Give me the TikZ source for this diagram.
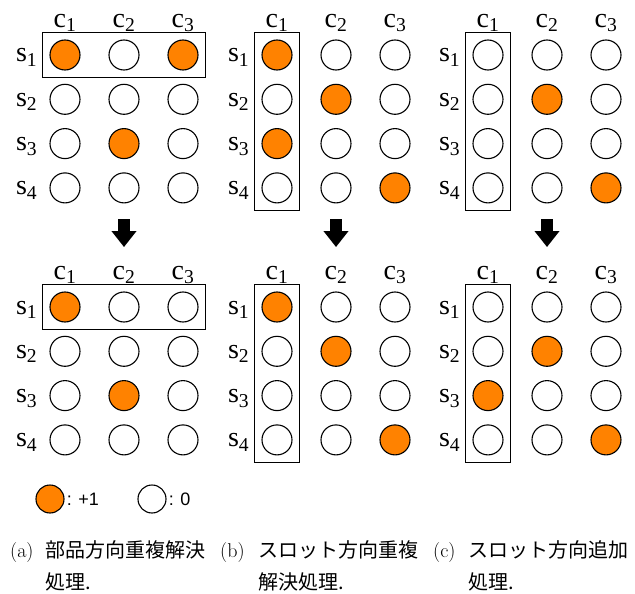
\documentclass[tikz,border=0pt]{standalone}
\usepackage{fontspec}
\usepackage{tikz}
\usetikzlibrary{positioning,fit,arrows.meta}
\newfontfamily\tnr{Liberation Serif}
\newfontfamily\helv{Liberation Sans}
\newfontfamily\jp{Noto Sans CJK JP}
\definecolor{hitc}{RGB}{255,130,0}

\begin{document}
\begin{tikzpicture}[x=1pt,y=-1pt,
  dot/.style={circle,draw,line width=1.1pt,minimum size=30pt,inner sep=0pt},
  grp/.style={draw,line width=1.1pt,inner sep=7pt},
  lbl/.style={font=\tnr\fontsize{28}{30}\selectfont,inner sep=0pt},
  down/.style={line width=12pt,-{Triangle[width=24pt,length=16pt]}},
  keytxt/.style={font=\helv\fontsize{18}{20}\selectfont,inner sep=0pt},
  captext/.style={font=\fontsize{20}{24}\selectfont,inner sep=0pt,anchor=base west}]
\useasboundingbox (0,0) rectangle (635,594);
\foreach \p/\px/\py/\pat/\last in {ta/65/55/{212,111,121,111}/1-3, tb/277/55/{211,121,211,112}/4-1,
    tc/488/55/{111,121,111,112}/4-1, ba/65/307/{211,111,121,111}/1-3,
    bb/277/307/{211,121,111,112}/4-1, bc/488/307/{111,121,211,112}/4-1} {
  \foreach \bits [count=\r] in \pat
    \foreach \c in {1,2,3} {
      \pgfmathtruncatemacro\on{mod(floor(\bits/10^(3-\c)),10)}
      \ifnum\on=2 \def\fc{hitc}\else\def\fc{white}\fi
      \node[dot,fill=\fc] (\p-\r-\c) at (\px+59*\c-59,\py+44.3*\r-44.3) {};
    }
  \foreach \c in {1,2,3}
    \node[lbl,above=12pt of \p-1-\c,anchor=base] (\p-c\c) {c\textsubscript{\c}};
  \foreach \r in {1,...,4}
    \node[lbl,left=12pt of \p-\r-1,anchor=base east,yshift=-7pt] (\p-s\r) {s\textsubscript{\r}};
  \node[grp,fit=(\p-1-1)(\p-\last)] (\p-box) {};
}
\foreach \a/\b in {ta/ba,tb/bb,tc/bc}
  \draw[down] ([yshift=-16pt]\a-4-2.south) -- ([yshift=19pt]\b-c2.north);
\node[dot,minimum size=28pt,fill=hitc] (key1) at (50,499) {};
\node[keytxt,right=2pt of key1] (key1-txt) {: +1};
\node[dot,minimum size=28pt] (key0) at (152,499) {};
\node[keytxt,right=2pt of key0] (key0-txt) {: 0};
\foreach \k/\kx/\tx/\one/\two in {a/10/45/部品方向重複解決/処理., b/220/258/スロット方向重複/解決処理.,
    c/433/468/スロット方向追加/処理.} {
  \node[captext] (lab-\k) at (\kx,557) {(\k)};
  \node[captext,font=\jp\fontsize{20}{24}\selectfont] (cap-\k) at (\tx,557) {\one};
  \node[captext,font=\jp\fontsize{20}{24}\selectfont] (cap-\k2) at (\tx,589) {\two};
}
\end{tikzpicture}
\end{document}
